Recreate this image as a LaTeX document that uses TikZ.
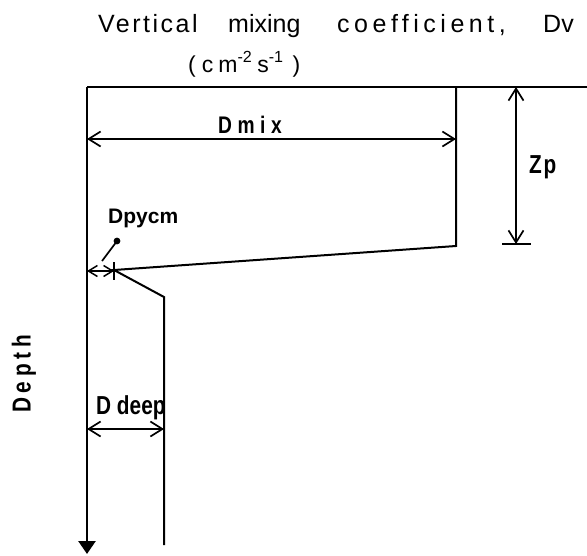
\documentclass[tikz,border=0pt]{standalone}
\usepackage{fontspec}
\setmainfont{Liberation Sans}
\newfontfamily\cond{Liberation Sans Bold}[FakeStretch=0.8]
\usetikzlibrary{arrows.meta}
\begin{document}
\begin{tikzpicture}[x=1pt,y=-1pt,
  lbl/.style={inner sep=0pt, anchor=base west, font=\cond\fontsize{26}{30}\selectfont},
  ttl/.style={inner sep=0pt, anchor=base west, font=\fontsize{25}{28}\selectfont},
  axisline/.style={line width=2.6pt},
  profline/.style={line width=2pt, line join=miter},
  dimline/.style={line width=1.7pt},
  barb/.tip={Straight Barb[length=12pt,width=15pt,line width=1.7pt]},
  smallbarb/.tip={Straight Barb[length=9pt,width=11pt,line width=1.5pt]}]
\useasboundingbox (0,0) rectangle (587,555);
% key points
\coordinate (O) at (87,87);
\coordinate (TR) at (587,87);
\coordinate (AE) at (87,554);
\coordinate (P1) at (456,87);
\coordinate (P2) at (456,246);
\coordinate (C) at (114,270);
\coordinate (K) at (164,297);
\coordinate (B) at (164,545);
\coordinate (mixL) at (87,139);
\coordinate (mixR) at (456,139);
\coordinate (zpT) at (516,87);
\coordinate (zpB) at (516,244);
\coordinate (tkL) at (502,244);
\coordinate (tkR) at (531,244);
\coordinate (pyL) at (87,271);
\coordinate (pyR) at (114,271);
\coordinate (cxT) at (114,262);
\coordinate (cxB) at (114,280);
\coordinate (ldA) at (102,261);
\coordinate (ldB) at (117,241);
\coordinate (dpL) at (87,429);
\coordinate (dpR) at (164,429);
% axes
\draw[axisline] (TR) -- (O);
\draw[axisline, -{Triangle[length=13pt,width=17pt]}] (O) -- (AE);
% profile
\draw[profline] (P1) -- (P2) -- (C) -- (K) -- (B);
% dimension arrows
\draw[dimline, barb-barb] (mixL) -- (mixR);
\draw[dimline, barb-barb] (zpT) -- (zpB);
\draw[dimline] (tkL) -- (tkR);
\draw[dimline, smallbarb-smallbarb] (pyL) -- (pyR);
\draw[dimline] (cxT) -- (cxB);
\draw[dimline] (ldA) -- (ldB);
\fill (ldB) circle (3.4pt);
\draw[dimline, barb-barb] (dpL) -- (dpR);
% texts
\node[ttl, font=\fontsize{25}{28}\selectfont\addfontfeature{LetterSpace=10}] (t1) at (98,32) {Vertical};
\node[ttl] (t2) at (228,32) {mixing};
\node[ttl, font=\fontsize{25}{28}\selectfont\addfontfeature{LetterSpace=18}] (t3) at (337,32) {coefficient,};
\node[ttl] (t4) at (543,32) {Dv};
\node[ttl, font=\fontsize{23}{26}\selectfont] (unit) at (188,72) {(\hspace{6pt}c\hspace{5pt}m\textsuperscript{-2}\hspace{5pt}s\textsuperscript{-1}\hspace{9pt})};
\node[lbl, font=\cond\fontsize{24}{28}\selectfont\addfontfeature{LetterSpace=23}] (dmix) at (218,133) {Dmix};
\node[lbl, font=\cond\fontsize{26}{30}\selectfont\addfontfeature{LetterSpace=7}] (zp) at (529,173) {Zp};
\node[lbl, font=\fontsize{21}{25}\selectfont\bfseries] (dpycm) at (108,223) {Dpycm};
\node[lbl] (ddeep) at (96,414) {D deep};
\node[inner sep=0pt, rotate=90, font=\cond\fontsize{26}{30}\selectfont\addfontfeature{LetterSpace=18}] (depth) at (24,374) {Depth};
\end{tikzpicture}
\end{document}
